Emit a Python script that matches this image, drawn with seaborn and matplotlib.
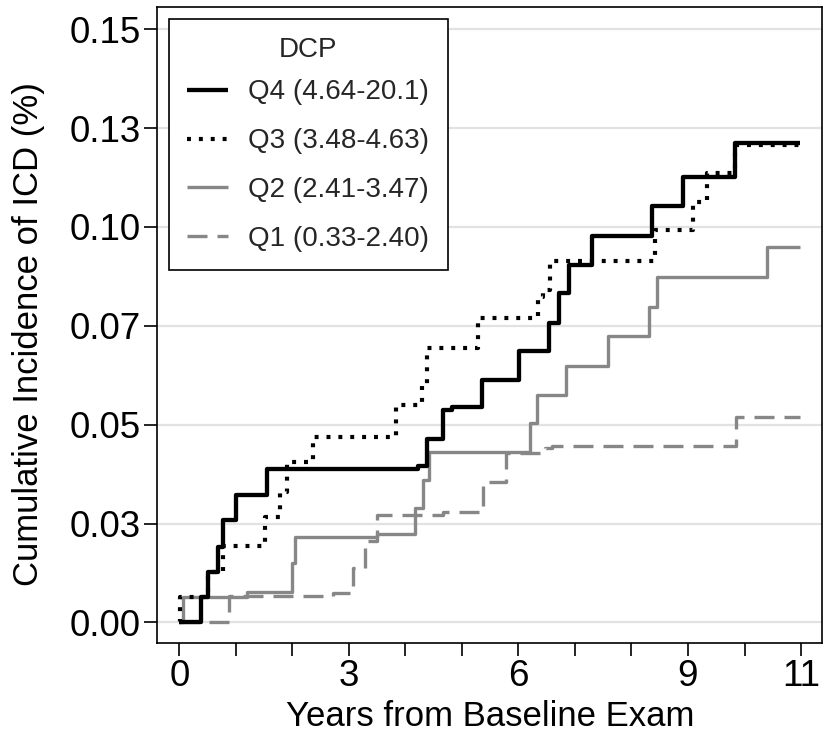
import numpy as np
import pandas as pd
import matplotlib
matplotlib.use("Agg")
import matplotlib.pyplot as plt
import seaborn as sns

# ---- data ----
q4_t = [0, 0.38, 0.50, 0.68, 0.77, 1.01, 1.55, 4.22, 4.375, 4.67, 4.82, 5.35, 6.01,
        6.54, 6.72, 6.89, 7.31, 8.37, 8.92, 9.83, 10.98]
q4_v = [0, 0.0065, 0.0128, 0.0191, 0.0259, 0.0323, 0.0388, 0.0395, 0.0465, 0.0537,
        0.0545, 0.0613, 0.0687, 0.0758, 0.0832, 0.0904, 0.0977, 0.1053, 0.1127,
        0.1213, 0.1213]

q3_t = [0, 0.02, 0.50, 0.77, 1.51, 1.78, 1.91, 2.37, 3.84, 4.30, 4.375, 5.29, 6.35,
        6.44, 6.56, 8.42, 9.09, 9.34, 9.83, 10.98]
q3_v = [0, 0.0065, 0.0128, 0.0194, 0.0267, 0.0330, 0.0405, 0.0470, 0.0550, 0.0600,
        0.0693, 0.0769, 0.0824, 0.0841, 0.0915, 0.0992, 0.1064, 0.1136, 0.1207, 0.1207]

q2_t = [0, 0.067, 1.19, 1.99, 2.04, 3.49, 4.17, 4.31, 4.42, 6.20, 6.32, 6.85, 7.59,
        8.31, 8.45, 10.39, 10.98]
q2_v = [0, 0.0065, 0.0077, 0.0149, 0.0217, 0.0223, 0.0290, 0.0360, 0.0430, 0.0503,
        0.0575, 0.0648, 0.0724, 0.0798, 0.0873, 0.0950, 0.0950]

q1_t = [0, 0.88, 2.72, 3.07, 3.28, 3.49, 4.67, 5.38, 5.78, 6.47, 6.59, 9.85, 10.98]
q1_v = [0, 0.0066, 0.0075, 0.0137, 0.0205, 0.0271, 0.0280, 0.0356, 0.0428, 0.0440,
        0.0447, 0.0520, 0.0520]

series_labels = ["Q4 (4.64-20.1)", "Q3 (3.48-4.63)", "Q2 (2.41-3.47)", "Q1 (0.33-2.40)"]
legend_title = "DCP"

y_ticks = [0, 0.025, 0.05, 0.075, 0.10, 0.125, 0.15]
y_tick_labels = ["0.00", "0.03", "0.05", "0.07", "0.10", "0.13", "0.15"]
x_ticks = list(range(0, 12))
x_tick_labels = ["0", "", "", "3", "", "", "6", "", "", "9", "", "11"]

x_label = "Years from Baseline Exam"
y_label = "Cumulative Incidence of ICD (%)"

# ---- style ----
sns.set_style("ticks")
plt.rcParams["font.family"] = ["Liberation Sans", "DejaVu Sans"]

fig = plt.figure(figsize=(8.25, 7.36), dpi=100)
ax = fig.add_axes([0.1899, 0.1264, 0.8064, 0.8645])

GRAY = "#878787"
styles = {
    series_labels[3]: dict(color=GRAY, linewidth=2.4, linestyle=(0, (6.0, 3.0))),
    series_labels[2]: dict(color=GRAY, linewidth=2.4, linestyle="-"),
    series_labels[1]: dict(color="black", linewidth=3.0, linestyle=(0, (0.95, 1.9))),
    series_labels[0]: dict(color="black", linewidth=3.1, linestyle="-"),
}
data = {
    series_labels[0]: (q4_t, q4_v),
    series_labels[1]: (q3_t, q3_v),
    series_labels[2]: (q2_t, q2_v),
    series_labels[3]: (q1_t, q1_v),
}

for name in [series_labels[3], series_labels[2], series_labels[1], series_labels[0]]:
    t, v = data[name]
    df = pd.DataFrame({"t": t, "v": v})
    sns.lineplot(data=df, x="t", y="v", ax=ax, drawstyle="steps-post",
                 estimator=None, sort=False, label=name,
                 solid_capstyle="butt", dash_capstyle="butt", **styles[name])

ax.set_xlim(-0.40, 11.37)
ax.set_ylim(-0.0052, 0.1557)
ax.set_xticks(x_ticks)
ax.set_xticklabels(x_tick_labels)
ax.set_yticks(y_ticks)
ax.set_yticklabels(y_tick_labels)

ax.set_axisbelow(True)
ax.yaxis.grid(True, color="#e2e2e2", linewidth=1.6)
ax.xaxis.grid(False)

for sp in ax.spines.values():
    sp.set_visible(True)
    sp.set_color("black")
    sp.set_linewidth(1.2)

ax.tick_params(axis="both", direction="out", length=9.5, width=1.2, color="black",
               labelsize=26.5, labelcolor="black")
ax.tick_params(axis="x", pad=2)
ax.tick_params(axis="y", pad=2)

ax.set_xlabel(x_label, fontsize=25, color="black")
ax.set_ylabel(y_label, fontsize=25, color="black")
ax.xaxis.set_label_coords(0.501, -0.115)
ax.xaxis.label.set_va("center")
ax.yaxis.set_label_coords(-0.193, 0.485)
ax.yaxis.label.set_va("center")

handles, labels = ax.get_legend_handles_labels()
order = [labels.index(n) for n in series_labels]
leg = ax.legend([handles[i] for i in order], [labels[i] for i in order],
                title=legend_title, loc="upper left", bbox_to_anchor=(0.019, 0.980),
                borderaxespad=0, frameon=True, fancybox=False, fontsize=20,
                title_fontsize=20, handlelength=1.45, handletextpad=0.75,
                labelspacing=0.82, borderpad=0.65, framealpha=1, edgecolor="black")
leg.get_frame().set_linewidth(1.2)
# tighten the gap between the legend title and its first entry
leg._legend_box.sep = 11.5

fig.savefig("out.png", dpi=100)
